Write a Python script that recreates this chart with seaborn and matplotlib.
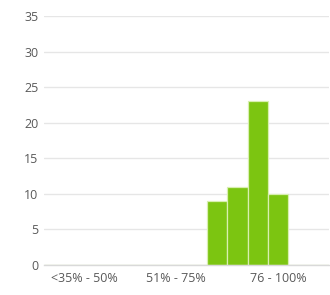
import matplotlib
matplotlib.use("Agg")
import matplotlib.pyplot as plt
import seaborn as sns
import pandas as pd

# Fine bins along the x axis (14 bins), counts per bin
bins = list(range(14))
counts = [0, 0, 0, 0, 0, 0, 0, 0, 9, 11, 23, 10, 0, 0]
# Category groups: labels and bin boundaries
group_labels = ["<35% - 50%", "51% - 75%", "76 - 100%"]
group_edges = [0, 4, 9, 14]
y_ticks = [0, 5, 10, 15, 20, 25, 30, 35]

df = pd.DataFrame({"bin": bins, "count": counts})

sns.set_style("white")
plt.rcParams["font.family"] = ["Open Sans", "DejaVu Sans"]

fig = plt.figure(figsize=(3.30, 2.95), dpi=100)
ax = fig.add_axes([44 / 330, 1 - 265 / 295, (329 - 44) / 330, (265 - 16) / 295])

sns.barplot(data=df, x="bin", y="count", order=bins, color="#7cc511",
            saturation=1, width=1.0, edgecolor="#d8efb0", linewidth=0.9, ax=ax)

ax.set_xlim(-0.5, 13.5)
ax.set_ylim(0, 35)
ax.set_yticks(y_ticks)
ax.yaxis.grid(True, color="#e6e6e6", linewidth=1.0)
ax.set_axisbelow(True)
for s in ["top", "right", "left"]:
    ax.spines[s].set_visible(False)
ax.spines["bottom"].set_color("#d9d9d9")
ax.spines["bottom"].set_linewidth(1.0)

ax.tick_params(axis="y", length=0, pad=4, labelsize=9, labelcolor="#595959")
# major ticks at group boundaries, labels at group centres (minor)
ax.set_xticks([e - 0.5 for e in group_edges])
ax.set_xticklabels([])
ax.set_xticks([(group_edges[i] + group_edges[i + 1]) / 2 - 0.5 for i in range(3)], minor=True)
ax.set_xticklabels(group_labels, minor=True)
ax.tick_params(axis="x", which="major", length=5, color="#d9d9d9", width=1.0)
ax.tick_params(axis="x", which="minor", length=0, pad=5, labelsize=9, labelcolor="#595959")
ax.set_xlabel("")
ax.set_ylabel("")

fig.savefig("out.png", dpi=100)
